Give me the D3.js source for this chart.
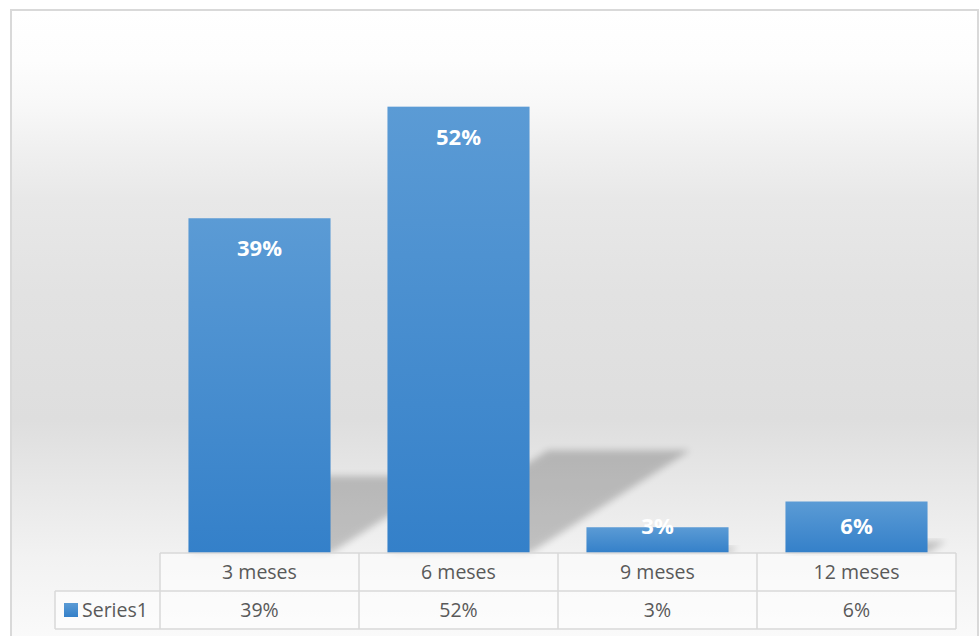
<!DOCTYPE html>
<html>
<head>
<meta charset="utf-8">
<script src="https://cdn.jsdelivr.net/npm/d3@7"></script>
<style>
  body { margin: 0; background: #fff; }
  text { font-family: 'Open Sans', sans-serif; }
</style>
</head>
<body>
<div id="chart"><svg></svg></div>
<script>
const width = 979;
const height = 636;

const categories = ['3 meses', '6 meses', '9 meses', '12 meses'];
const values = [39, 52, 3, 6];
const valueLabels = ['39%', '52%', '3%', '6%'];
const seriesName = 'Series1';

const svg = d3.select('#chart > svg')
  .attr('width', width)
  .attr('height', height);

const defs = svg.append('defs');

// chart area background
const bg = defs.append('linearGradient')
  .attr('id', 'bg')
  .attr('x1', 0).attr('y1', 0).attr('x2', 0).attr('y2', 1);
[[0, '#ffffff'], [0.08, '#fdfdfd'], [0.15, '#f8f8f8'], [0.22, '#f0f0f0'],
 [0.3, '#e8e8e8'], [0.45, '#e2e2e2'], [0.65, '#dedede'], [0.78, '#eaeaea'],
 [0.87, '#f2f2f2'], [1, '#fafafa']]
  .forEach(([o, c]) => bg.append('stop').attr('offset', o).attr('stop-color', c));

const barGrad = defs.append('linearGradient')
  .attr('id', 'bar')
  .attr('x1', 0).attr('y1', 0).attr('x2', 0).attr('y2', 1);
barGrad.append('stop').attr('offset', 0).attr('stop-color', '#5b9bd5');
barGrad.append('stop').attr('offset', 1).attr('stop-color', '#3480c9');

defs.append('filter')
  .attr('id', 'blur')
  .attr('x', '-20%').attr('y', '-20%').attr('width', '140%').attr('height', '140%')
  .append('feGaussianBlur')
  .attr('stdDeviation', 3.5);

svg.append('rect')
  .attr('x', 11).attr('y', 10)
  .attr('width', 967).attr('height', 630)
  .attr('fill', 'url(#bg)')
  .attr('stroke', '#d9d9d9')
  .attr('stroke-width', 2);

// scales
const x = d3.scaleBand()
  .domain(categories)
  .range([160, 956])
  .paddingInner(0.286)
  .paddingOuter(0.143);

const col = d3.scaleBand()
  .domain(categories)
  .range([160, 956]);

const y = d3.scaleLinear()
  .domain([0, 60])
  .range([553, 38]);

const data = categories.map((c, i) => ({ cat: c, value: values[i], label: valueLabels[i] }));

// perspective shadows
svg.append('g')
  .selectAll('polygon')
  .data(data)
  .join('polygon')
  .attr('points', d => {
    const x0 = x(d.cat);
    const x1 = x0 + x.bandwidth();
    const yb = y(0);
    const h = yb - y(d.value);
    const dx = h * 0.36;
    const dy = h * 0.23;
    return [[x0, yb], [x1, yb], [x1 + dx, yb - dy], [x0 + dx, yb - dy]].join(' ');
  })
  .attr('fill', '#000')
  .attr('opacity', 0.2)
  .attr('filter', 'url(#blur)');

// bars
svg.append('g')
  .selectAll('rect')
  .data(data)
  .join('rect')
  .attr('x', d => x(d.cat))
  .attr('y', d => y(d.value))
  .attr('width', x.bandwidth())
  .attr('height', d => y(0) - y(d.value))
  .attr('fill', 'url(#bar)');

// data labels
svg.append('g')
  .selectAll('text')
  .data(data)
  .join('text')
  .attr('x', d => x(d.cat) + x.bandwidth() / 2)
  .attr('y', d => Math.min(y(d.value) + 30, y(0) - 27))
  .attr('dy', '0.36em')
  .attr('text-anchor', 'middle')
  .attr('fill', '#fff')
  .attr('font-weight', 'bold')
  .attr('font-size', 22)
  .text(d => d.label);

// data table
const rowTop = y(0);
const rowMid = 591;
const rowBot = 629;
const legendLeft = 55;

const table = svg.append('g');

table.append('rect')
  .attr('x', col.range()[0]).attr('y', rowTop)
  .attr('width', col.range()[1] - col.range()[0]).attr('height', rowBot - rowTop)
  .attr('fill', '#fff').attr('opacity', 0.5);
table.append('rect')
  .attr('x', legendLeft).attr('y', rowMid)
  .attr('width', col.range()[0] - legendLeft).attr('height', rowBot - rowMid)
  .attr('fill', '#fff').attr('opacity', 0.5);

const gridLines = [
  [col.range()[0], rowTop, col.range()[1], rowTop],
  [legendLeft, rowMid, col.range()[1], rowMid],
  [legendLeft, rowBot, col.range()[1], rowBot],
  [legendLeft, rowMid, legendLeft, rowBot],
  ...categories.map(c => [col(c), rowTop, col(c), rowBot]),
  [col.range()[1], rowTop, col.range()[1], rowBot]
];

table.selectAll('line')
  .data(gridLines)
  .join('line')
  .attr('x1', d => d[0]).attr('y1', d => d[1])
  .attr('x2', d => d[2]).attr('y2', d => d[3])
  .attr('stroke', '#d9d9d9')
  .attr('stroke-width', 1.5);

table.selectAll('text.cat')
  .data(data)
  .join('text')
  .attr('class', 'cat')
  .attr('x', d => col(d.cat) + col.bandwidth() / 2)
  .attr('y', (rowTop + rowMid) / 2)
  .attr('dy', '0.36em')
  .attr('text-anchor', 'middle')
  .attr('fill', '#595959')
  .attr('font-size', 19.5)
  .text(d => d.cat);

table.selectAll('text.val')
  .data(data)
  .join('text')
  .attr('class', 'val')
  .attr('x', d => col(d.cat) + col.bandwidth() / 2)
  .attr('y', (rowMid + rowBot) / 2)
  .attr('dy', '0.36em')
  .attr('text-anchor', 'middle')
  .attr('fill', '#595959')
  .attr('font-size', 19.5)
  .text(d => d.label);

// legend key
table.append('rect')
  .attr('x', 64).attr('y', 603)
  .attr('width', 14).attr('height', 14)
  .attr('fill', 'url(#bar)');

table.append('text')
  .attr('x', 82)
  .attr('y', (rowMid + rowBot) / 2)
  .attr('dy', '0.36em')
  .attr('fill', '#595959')
  .attr('font-size', 19.5)
  .text(seriesName);
</script>
</body>
</html>
